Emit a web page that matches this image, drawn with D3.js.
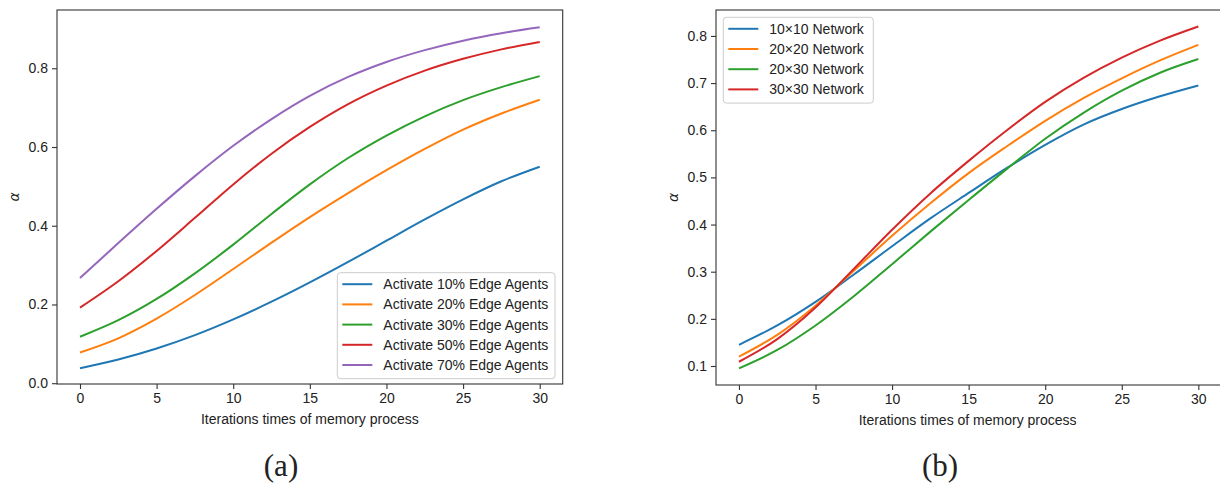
<!DOCTYPE html>
<html>
<head>
<meta charset="utf-8">
<script src="https://cdn.jsdelivr.net/npm/d3@7"></script>
<style>
  body { margin: 0; background: #fff; }
  svg { display: block; }
  text { font-family: "Liberation Sans", Arial, sans-serif; fill: #222; }
</style>
</head>
<body>
<div id="chart"></div>
<script>
// iterations (x values)
var iters = [0, 2.5, 5, 7.5, 10, 12.5, 15, 17.5, 20, 22.5, 25, 27.5, 30];

// panel (a): share of edge agents activated
var namesA = ["Activate 10% Edge Agents", "Activate 20% Edge Agents", "Activate 30% Edge Agents",
              "Activate 50% Edge Agents", "Activate 70% Edge Agents"];
var act10 = [0.038, 0.060, 0.088, 0.122, 0.162, 0.207, 0.256, 0.308, 0.362, 0.416, 0.467, 0.513, 0.550];
var act20 = [0.078, 0.114, 0.164, 0.224, 0.290, 0.357, 0.422, 0.483, 0.541, 0.595, 0.644, 0.685, 0.720];
var act30 = [0.118, 0.160, 0.214, 0.279, 0.352, 0.430, 0.505, 0.572, 0.629, 0.678, 0.719, 0.752, 0.780];
var act50 = [0.192, 0.259, 0.336, 0.420, 0.505, 0.583, 0.651, 0.709, 0.756, 0.794, 0.824, 0.848, 0.867];
var act70 = [0.267, 0.356, 0.443, 0.526, 0.603, 0.671, 0.730, 0.778, 0.816, 0.846, 0.870, 0.889, 0.904];

// panel (b): network size
var namesB = ["10\u00d710 Network", "20\u00d720 Network", "20\u00d730 Network", "30\u00d730 Network"];
var net10x10 = [0.145, 0.186, 0.236, 0.294, 0.354, 0.413, 0.467, 0.520, 0.569, 0.612, 0.645, 0.672, 0.695];
var net20x20 = [0.120, 0.166, 0.228, 0.302, 0.376, 0.445, 0.509, 0.566, 0.620, 0.668, 0.710, 0.748, 0.781];
var net20x30 = [0.095, 0.134, 0.186, 0.248, 0.316, 0.385, 0.452, 0.518, 0.582, 0.637, 0.684, 0.722, 0.751];
var net30x30 = [0.109, 0.157, 0.224, 0.306, 0.389, 0.466, 0.535, 0.600, 0.660, 0.711, 0.754, 0.790, 0.820];

var yTicksA = [0.0, 0.2, 0.4, 0.6, 0.8];
var yTicksB = [0.1, 0.2, 0.3, 0.4, 0.5, 0.6, 0.7, 0.8];
var xTicks = [0, 5, 10, 15, 20, 25, 30];

var colors = ["#1f77b4", "#ff7f0e", "#2ca02c", "#d62728", "#9467bd"];

var W = 1220, H = 485;
var svg = d3.select("#chart").append("svg")
    .attr("width", W)
    .attr("height", H);

function panel(opt) {
  var x = d3.scaleLinear().domain([-1.5, 31.5]).range([opt.left, opt.right]);
  var y = d3.scaleLinear().domain(opt.ydom).range([opt.bottom, opt.top]);

  var g = svg.append("g");

  // lines
  var line = d3.line()
    .x(function(d) { return x(d[0]); })
    .y(function(d) { return y(d[1]); })
    .curve(d3.curveMonotoneX);

  opt.series.forEach(function(s, i) {
    g.append("path")
      .datum(iters.map(function(t, k) { return [t, s[k]]; }))
      .attr("fill", "none")
      .attr("stroke", colors[i])
      .attr("stroke-width", 2)
      .attr("d", line);
  });

  // frame
  g.append("rect")
    .attr("x", opt.left).attr("y", opt.top)
    .attr("width", opt.right - opt.left).attr("height", opt.bottom - opt.top)
    .attr("fill", "none").attr("stroke", "#333").attr("stroke-width", 1.1);

  // axes
  var xa = g.append("g")
    .attr("transform", "translate(0," + opt.bottom + ")")
    .call(d3.axisBottom(x).tickValues(xTicks).tickSize(5).tickPadding(4));
  var ya = g.append("g")
    .attr("transform", "translate(" + opt.left + ",0)")
    .call(d3.axisLeft(y).tickValues(opt.yticks).tickFormat(d3.format(".1f")).tickSize(5).tickPadding(4));
  [xa, ya].forEach(function(a) {
    a.select(".domain").remove();
    a.selectAll(".tick line").attr("stroke", "#333").attr("stroke-width", 1.1);
    a.selectAll(".tick text")
      .style("font-family", '"Liberation Sans", Arial, sans-serif')
      .style("font-size", "14px").attr("fill", "#222");
  });

  // axis labels
  g.append("text")
    .attr("x", (opt.left + opt.right) / 2 - (opt.right > W ? 1 : 0))
    .attr("y", opt.bottom + 40)
    .attr("text-anchor", "middle")
    .style("font-size", "14px")
    .text("Iterations times of memory process");

  g.append("text")
    .attr("transform", "translate(" + (opt.left - 38) + "," + ((opt.top + opt.bottom) / 2) + ") rotate(-90)")
    .attr("text-anchor", "middle")
    .style("font-family", '"DejaVu Sans", sans-serif')
    .style("font-style", "italic")
    .style("font-size", "14px")
    .text("\u03b1");

  // caption
  g.append("text")
    .attr("x", opt.capX)
    .attr("y", 476)
    .attr("text-anchor", "middle")
    .style("font-family", '"Liberation Serif", "DejaVu Serif", serif')
    .style("font-size", "31px")
    .text(opt.caption);

  // legend
  var lg = g.append("g").attr("transform", "translate(" + opt.legX + "," + opt.legY + ")");
  lg.append("rect")
    .attr("x", 0).attr("y", 0)
    .attr("width", opt.legW).attr("height", opt.names.length * 20.2 + 5)
    .attr("rx", 3)
    .attr("fill", "#fff").attr("fill-opacity", 0.8)
    .attr("stroke", "#ccc").attr("stroke-width", 1);
  opt.names.forEach(function(n, i) {
    var ry = 11.5 + i * 20.2;
    lg.append("line")
      .attr("x1", 5).attr("x2", 35).attr("y1", ry).attr("y2", ry)
      .attr("stroke", colors[i]).attr("stroke-width", 2);
    lg.append("text")
      .attr("x", 46).attr("y", ry + 5)
      .style("font-size", "14px")
      .text(n);
  });
}

panel({
  left: 57, right: 562.7, top: 10, bottom: 384,
  ydom: [-0.002, 0.948], yticks: yTicksA,
  series: [act10, act20, act30, act50, act70], names: namesA,
  legX: 337.3, legY: 272.7, legW: 217.7,
  capX: 281, caption: "(a)"
});

panel({
  left: 716, right: 1221.3, top: 10, bottom: 385,
  ydom: [0.0597, 0.855], yticks: yTicksB,
  series: [net10x10, net20x20, net20x30, net30x30], names: namesB,
  legX: 723.3, legY: 17.3, legW: 150,
  capX: 940, caption: "(b)"
});
</script>
</body>
</html>
